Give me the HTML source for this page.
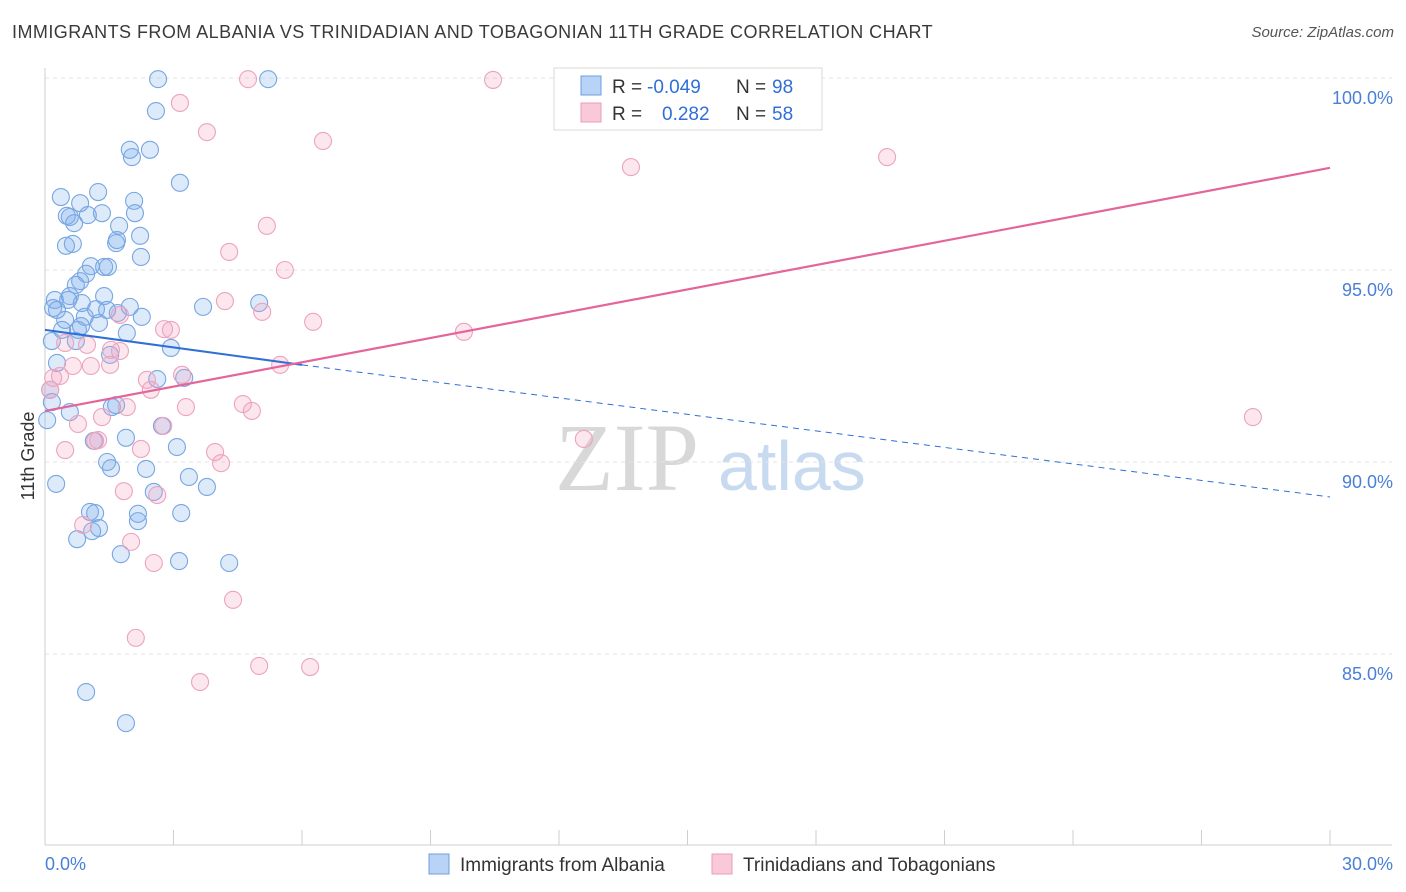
<!DOCTYPE html>
<html><head><meta charset="utf-8">
<style>
body{margin:0;background:#fff;font-family:"Liberation Sans",sans-serif;}
#wrap{position:relative;width:1406px;height:892px;overflow:hidden;}
.title{position:absolute;left:12px;top:22px;font-size:18px;color:#3a3a3a;letter-spacing:0.45px;}
.source{position:absolute;right:12px;top:24px;font-size:15px;color:#555;font-style:italic;}
</style></head>
<body>
<div id="wrap">
<div class="title">IMMIGRANTS FROM ALBANIA VS TRINIDADIAN AND TOBAGONIAN 11TH GRADE CORRELATION CHART</div>
<div class="source">Source: ZipAtlas.com</div>
<svg id="chart" width="1406" height="892" style="position:absolute;left:0;top:0"></svg>
</div>
<script>
const xTicks=[0,3,6,9,12,15,18,21,24,27,30];
const yTicks=[85,90,95,100];
const yTickLabels=["85.0%","90.0%","95.0%","100.0%"];
const albaniaX=[2.64,5.21,2.59,1.98,2.45,2.03,3.15,1.24,0.37,0.82,2.08,0.51,0.58,1.00,1.33,2.10,0.68,1.73,1.68,2.22,0.49,0.65,1.66,2.24,1.07,1.38,1.47,0.96,0.82,0.72,0.23,0.58,0.54,1.38,0.86,0.19,0.28,3.69,5.00,1.98,1.19,1.45,1.70,2.26,0.47,0.93,1.26,0.40,0.77,0.84,1.91,0.16,0.72,2.94,1.52,0.28,3.25,2.62,1.66,1.56,0.16,0.58,2.73,1.89,1.14,3.08,1.45,1.54,2.36,3.36,0.26,3.78,2.54,2.17,1.05,1.17,2.17,3.18,1.26,1.10,0.75,1.77,3.13,4.30,0.96,1.89,0.05,0.12];
const albaniaY=[99.97,99.97,99.14,98.13,98.13,97.94,97.27,97.03,96.90,96.74,96.80,96.41,96.38,96.43,96.48,96.48,96.22,96.15,95.78,95.89,95.63,95.68,95.70,95.34,95.10,95.08,95.08,94.90,94.71,94.61,94.22,94.32,94.22,94.32,94.14,94.01,93.96,94.04,94.14,94.04,93.98,93.96,93.88,93.78,93.70,93.78,93.62,93.44,93.44,93.54,93.36,93.15,93.15,92.97,92.79,92.58,92.19,92.16,91.48,91.43,91.56,91.30,90.94,90.63,90.55,90.39,90.00,89.84,89.82,89.61,89.43,89.35,89.22,88.65,88.70,88.67,88.46,88.67,88.28,88.20,87.99,87.60,87.42,87.37,84.01,83.20,91.09,91.88];
const trinX=[4.74,10.46,3.15,3.78,6.49,13.68,19.66,5.18,4.30,5.60,4.20,5.07,6.26,9.78,2.78,2.94,1.75,0.98,1.75,1.54,0.47,0.65,1.07,1.52,5.49,0.19,0.35,2.38,3.20,2.47,3.29,1.91,4.62,4.83,1.33,0.77,2.76,1.17,1.24,2.24,0.47,3.97,4.11,1.84,2.62,0.89,2.01,2.54,4.39,2.12,5.00,6.19,3.62,12.58,28.20,0.12];
const trinY=[99.97,99.95,99.35,98.59,98.36,97.68,97.94,96.15,95.47,95.00,94.19,93.91,93.65,93.39,93.46,93.44,93.83,93.05,92.89,92.92,93.10,92.50,92.50,92.53,92.53,92.19,92.24,92.14,92.27,91.88,91.43,91.43,91.51,91.33,91.17,90.99,90.94,90.55,90.57,90.34,90.31,90.26,89.97,89.24,89.14,88.36,87.92,87.37,86.41,85.42,84.69,84.66,84.27,90.60,91.17,91.88];
const albaniaTrend=[93.44,92.53,89.09];
const trinTrend=[91.33,97.66];

const X0=45,X1=1330,Y100=78,PX5=192;
const sx=v=>X0+(v-0)/30*(X1-X0);
const sy=v=>Y100+(100-v)/5*PX5;
const NS="http://www.w3.org/2000/svg";
const svg=document.getElementById('chart');
function mk(t,a,p){const e=document.createElementNS(NS,t);for(const k in a)e.setAttribute(k,a[k]);(p||svg).appendChild(e);return e;}

let wm=mk('text',{x:555,y:490,'font-size':96,'font-family':'Liberation Serif',fill:'#d8d8d8'});
wm.textContent='ZIP';


let wm2=mk('text',{x:718,y:490,'font-size':70,'font-family':'Liberation Sans',fill:'#c8daf0'});
wm2.textContent='atlas';



yTicks.forEach((t,i)=>{
 const g=mk('line',{x1:X0,x2:1392,y1:sy(t),y2:sy(t),stroke:'#e3e3e3','stroke-dasharray':'4,4'});
 
 
 const l=mk('text',{x:1393,y:sy(t)+26,'text-anchor':'end','font-size':18,fill:'#4a7fd6'});
 l.textContent=yTickLabels[i];
 
 
});
const ya=mk('line',{x1:X0,x2:X0,y1:68,y2:845,stroke:'#cfcfcf'});


const xa=mk('line',{x1:X0,x2:1392,y1:845,y2:845,stroke:'#cfcfcf'});


xTicks.forEach(t=>{
 const k=mk('line',{x1:sx(t),x2:sx(t),y1:830,y2:845,stroke:'#cfcfcf'});
 
 
});
const xl0=mk('text',{x:45,y:870,'font-size':18,fill:'#4a7fd6'});xl0.textContent='0.0%';


const xl1=mk('text',{x:1393,y:870,'text-anchor':'end','font-size':18,fill:'#4a7fd6'});xl1.textContent='30.0%';


const yt=mk('text',{x:34,y:456,'font-size':18,fill:'#333',transform:'rotate(-90 34 456)','text-anchor':'middle'});yt.textContent='11th Grade';



function pts(xs,ys,fill,stroke,name){
 xs.forEach((x,i)=>{
  const c=mk('circle',{cx:sx(x),cy:sy(ys[i]),r:8.5,fill:fill,stroke:stroke,'stroke-width':1.1});
  
  
 });
}
pts(albaniaX,albaniaY,'rgba(120,170,235,0.25)','#78a6e2','albania-point');
pts(trinX,trinY,'rgba(245,160,190,0.25)','#eca3bd','trinidad-point');

const b1=mk('line',{x1:sx(0),y1:sy(albaniaTrend[0]),x2:sx(6),y2:sy(albaniaTrend[1]),stroke:'#2f6fd6','stroke-width':2});


const b2=mk('line',{x1:sx(6),y1:sy(albaniaTrend[1]),x2:sx(30),y2:sy(albaniaTrend[2]),stroke:'#2f6fd6','stroke-width':1,'stroke-dasharray':'6,5'});


const p1=mk('line',{x1:sx(0),y1:sy(trinTrend[0]),x2:sx(30),y2:sy(trinTrend[1]),stroke:'#e5659a','stroke-width':2.2});



const lg=mk('rect',{x:554,y:68,width:268,height:62,fill:'#fff',stroke:'#d8d8d8'});


[[0,'#b8d3f5','#6d9fe0','-0.049','98',647],[1,'#f9c9d8','#eb9cb8','0.282','58',662]].forEach(r=>{
 const y=76+r[0]*27;
 const s=mk('rect',{x:581,y:y,width:20,height:19,fill:r[1],stroke:r[2]});
 
 
 const a=mk('text',{x:612,y:y+17,'font-size':19,fill:'#333'});a.textContent='R =';
 
 
 const b=mk('text',{x:r[5],y:y+17,'font-size':19,fill:'#2f6fd6'});b.textContent=r[3];
 
 
 const c=mk('text',{x:736,y:y+17,'font-size':19,fill:'#333'});c.textContent='N =';
 
 
 const d=mk('text',{x:772,y:y+17,'font-size':19,fill:'#2f6fd6'});d.textContent=r[4];
 
 
});

[[429,'#b8d3f5','#6d9fe0','Immigrants from Albania'],[712,'#f9c9d8','#eb9cb8','Trinidadians and Tobagonians']].forEach(r=>{
 const s=mk('rect',{x:r[0],y:854,width:20,height:20,fill:r[1],stroke:r[2]});
 
 
 const t=mk('text',{x:r[0]+31,y:871,'font-size':19,fill:'#333'});
 t.textContent=r[3];
 
 
});
</script>
</body></html>
